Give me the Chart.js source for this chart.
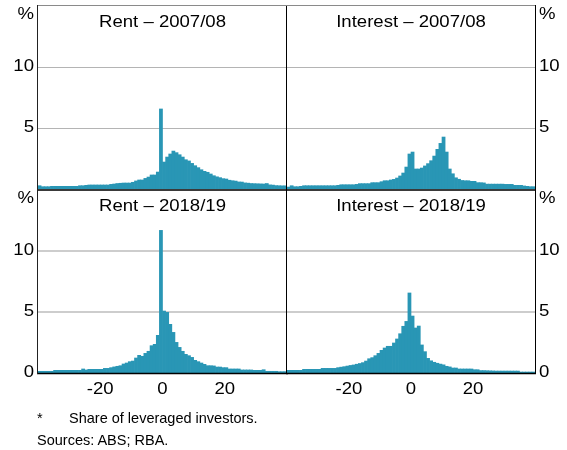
<!DOCTYPE html>
<html>
<head>
<meta charset="utf-8">
<script src="https://cdn.jsdelivr.net/npm/chart.js@4/dist/chart.umd.min.js"></script>
<style>
  html, body { margin: 0; padding: 0; background: #fff; }
  #wrap { position: relative; width: 567px; height: 450px; overflow: hidden; background: #fff; }
  #wrap canvas { position: absolute; left: 0; top: 0; }
  .note { position: absolute; font: 14.5px "Liberation Sans", Arial, Helvetica, sans-serif; line-height: 1; color: #000; white-space: nowrap; }
</style>
</head>
<body>
<div id="wrap">
  <canvas id="c1" width="567" height="450"></canvas>
  <canvas id="c2" width="567" height="450"></canvas>
  <canvas id="c3" width="567" height="450"></canvas>
  <canvas id="c4" width="567" height="450"></canvas>
  <div class="note" style="left:37px; top:411px;">*</div>
  <div class="note" style="left:69px; top:411px;">Share of leveraged investors.</div>
  <div class="note" style="left:37px; top:433px;">Sources: ABS; RBA.</div>
</div>
<script>
// Lower edge of each 1-percentage-point bin (annual change, %)
const bins = [
  -40, -39, -38, -37, -36, -35, -34, -33, -32, -31,
  -30, -29, -28, -27, -26, -25, -24, -23, -22, -21,
  -20, -19, -18, -17, -16, -15, -14, -13, -12, -11,
  -10, -9, -8, -7, -6, -5, -4, -3, -2, -1,
  0, 1, 2, 3, 4, 5, 6, 7, 8, 9,
  10, 11, 12, 13, 14, 15, 16, 17, 18, 19,
  20, 21, 22, 23, 24, 25, 26, 27, 28, 29,
  30, 31, 32, 33, 34, 35, 36, 37, 38, 39
];

// Share of leveraged investors in each bin, %
const rent0708 = [
  0.27, 0.19, 0.19, 0.19, 0.22, 0.22, 0.22, 0.22, 0.22, 0.22,
  0.22, 0.22, 0.22, 0.27, 0.27, 0.30, 0.33, 0.33, 0.33, 0.33,
  0.33, 0.33, 0.33, 0.38, 0.41, 0.45, 0.47, 0.49, 0.49, 0.49,
  0.55, 0.66, 0.74, 0.74, 0.87, 0.98, 1.15, 1.15, 1.39, 6.56,
  2.21, 2.62, 2.87, 3.11, 2.98, 2.81, 2.62, 2.40, 2.30, 2.10,
  1.91, 1.75, 1.58, 1.45, 1.37, 1.23, 1.09, 1.00, 0.93, 0.85,
  0.82, 0.72, 0.68, 0.65, 0.58, 0.57, 0.50, 0.48, 0.45, 0.44,
  0.43, 0.42, 0.41, 0.45, 0.34, 0.32, 0.28, 0.27, 0.26, 0.26
];
const interest0708 = [
  0.16, 0.27, 0.19, 0.19, 0.22, 0.27, 0.27, 0.27, 0.27, 0.27,
  0.27, 0.27, 0.27, 0.27, 0.27, 0.27, 0.30, 0.35, 0.35, 0.35,
  0.35, 0.35, 0.38, 0.44, 0.44, 0.44, 0.44, 0.52, 0.52, 0.52,
  0.60, 0.68, 0.68, 0.74, 0.79, 0.90, 1.07, 1.31, 1.80, 2.87,
  3.03, 1.64, 1.64, 1.72, 1.89, 2.08, 2.32, 2.70, 3.25, 3.74,
  4.26, 3.03, 1.64, 1.25, 0.92, 0.80, 0.70, 0.68, 0.68, 0.63,
  0.63, 0.52, 0.52, 0.50, 0.40, 0.40, 0.40, 0.40, 0.40, 0.40,
  0.38, 0.38, 0.38, 0.30, 0.30, 0.30, 0.25, 0.22, 0.19, 0.19
];
const rent1819 = [
  0.14, 0.14, 0.14, 0.14, 0.14, 0.22, 0.22, 0.22, 0.22, 0.22,
  0.22, 0.22, 0.22, 0.22, 0.33, 0.25, 0.30, 0.30, 0.30, 0.30,
  0.30, 0.38, 0.38, 0.44, 0.50, 0.55, 0.60, 0.74, 0.82, 0.93,
  0.98, 1.23, 1.45, 1.37, 1.61, 1.78, 2.24, 2.35, 3.09, 11.69,
  5.08, 4.97, 3.99, 3.33, 2.51, 2.10, 1.78, 1.53, 1.42, 1.28,
  1.04, 0.93, 0.82, 0.71, 0.60, 0.60, 0.58, 0.49, 0.49, 0.44,
  0.44, 0.33, 0.33, 0.33, 0.33, 0.25, 0.25, 0.25, 0.25, 0.22,
  0.22, 0.22, 0.27, 0.14, 0.14, 0.14, 0.14, 0.11, 0.11, 0.11
];
const interest1819 = [
  0.22, 0.22, 0.22, 0.22, 0.22, 0.30, 0.30, 0.30, 0.30, 0.30,
  0.30, 0.38, 0.38, 0.38, 0.38, 0.38, 0.44, 0.48, 0.52, 0.57,
  0.62, 0.66, 0.72, 0.78, 0.85, 0.98, 1.17, 1.26, 1.42, 1.61,
  1.86, 2.05, 2.19, 2.19, 2.46, 2.79, 3.22, 3.83, 4.23, 6.56,
  4.67, 3.69, 3.85, 2.30, 1.75, 1.20, 1.00, 0.88, 0.80, 0.73,
  0.67, 0.55, 0.50, 0.41, 0.41, 0.33, 0.33, 0.33, 0.33, 0.33,
  0.27, 0.27, 0.20, 0.20, 0.19, 0.18, 0.17, 0.16, 0.16, 0.16,
  0.16, 0.16, 0.16, 0.16, 0.16, 0.08, 0.08, 0.08, 0.08, 0.08
];

const panelTitles = ['Rent – 2007/08', 'Interest – 2007/08', 'Rent – 2018/19', 'Interest – 2018/19'];
const xTicks = [-20, 0, 20];
const yTicksTop = [5, 10];
const yTicksBottom = [0, 5, 10];
const unitLabel = '%';

const BAR_COLOUR = '#2996b5';
const FONT = '16px "Liberation Sans", Arial, Helvetica, sans-serif';
const TEXT_STRETCH = 1.16;
const W = 567, H = 450;
// Plot-area edges shared by the four panels
const FRAME = { left: 38, mid: 287, right: 535, top: 6, split: 189, bottom: 373 };

function drawLabel(ctx, text, x, y, align, baseline) {
  ctx.save();
  ctx.font = FONT;
  ctx.fillStyle = '#000';
  ctx.textAlign = align;
  ctx.textBaseline = baseline;
  ctx.translate(x, y);
  ctx.scale(TEXT_STRETCH, 1);
  ctx.fillText(text, 0, 0);
  ctx.restore();
}

function line(ctx, x1, y1, x2, y2, colour, width) {
  ctx.save();
  ctx.strokeStyle = colour;
  ctx.lineWidth = width;
  ctx.beginPath();
  ctx.moveTo(x1, y1);
  ctx.lineTo(x2, y2);
  ctx.stroke();
  ctx.restore();
}

// Gridlines behind the bars, frame and labels on top
const panelDecor = {
  id: 'panelDecor',
  beforeDatasetsDraw(chart, args, opts) {
    const ctx = chart.ctx;
    const { left, right } = chart.chartArea;
    const y = chart.scales.y;
    [5, 10].forEach(v => {
      const py = y.getPixelForValue(v);
      if (opts.row === 0) line(ctx, left, py + 0.5, right, py + 0.5, '#b4b4b4', 1);
      else line(ctx, left, py, right, py, '#cdcdcd', 2);
    });
  },
  afterDatasetsDraw(chart, args, opts) {
    const ctx = chart.ctx;
    const { left, right, top, bottom } = chart.chartArea;
    const y = chart.scales.y;
    const x = chart.scales.x;
    const isLeft = opts.side === 'left';

    // frame
    if (opts.row === 0) {
      line(ctx, left - 1, FRAME.top - 0.5, right + 1, FRAME.top - 0.5, '#8a8a8a', 1);
      line(ctx, left - 1, FRAME.split + 1, right + 1, FRAME.split + 1, '#3a3a3a', 2);
    } else {
      line(ctx, left - 1, FRAME.bottom + 0.5, right + 1, FRAME.bottom + 0.5, '#000', 1.5);
    }
    if (isLeft) {
      line(ctx, FRAME.left - 0.5, top - 1, FRAME.left - 0.5, bottom + 1, '#222', 1);
      line(ctx, FRAME.mid - 0.5, top - 1, FRAME.mid - 0.5, bottom + 1, '#000', 1);
    } else {
      line(ctx, FRAME.right + 0.5, top - 1, FRAME.right + 0.5, bottom + 1, '#000', 1);
    }

    // value axis labels
    const tx = isLeft ? FRAME.left - 4 : FRAME.right + 4;
    const align = isLeft ? 'right' : 'left';
    const ticks = opts.row === 0 ? yTicksTop : yTicksBottom;
    ticks.forEach(v => drawLabel(ctx, String(v), tx, y.getPixelForValue(v), align, 'middle'));
    drawLabel(ctx, unitLabel, tx, top + 9, align, 'middle');

    // panel title
    drawLabel(ctx, opts.title, (left + right) / 2, top + 21, 'center', 'alphabetic');

    // category axis labels on the lower panels
    if (opts.row === 1) {
      xTicks.forEach(v => drawLabel(ctx, String(v), x.getPixelForValue(v), 393.5, 'center', 'alphabetic'));
    }
  }
};

function makePanel(canvasId, title, values, side, row) {
  const padding = {
    left: side === 'left' ? FRAME.left : FRAME.mid,
    right: side === 'left' ? W - FRAME.mid : W - FRAME.right,
    top: row === 0 ? FRAME.top : FRAME.split + 1,
    bottom: row === 0 ? H - FRAME.split : H - FRAME.bottom
  };
  return new Chart(document.getElementById(canvasId), {
    type: 'bar',
    data: {
      datasets: [{
        data: bins.map((b, i) => ({ x: b + 0.5, y: values[i] })),
        backgroundColor: BAR_COLOUR,
        borderWidth: 0,
        barPercentage: 1,
        categoryPercentage: 1,
        grouped: false
      }]
    },
    options: {
      responsive: false,
      animation: false,
      devicePixelRatio: 1,
      layout: { padding },
      scales: {
        x: { type: 'linear', min: -40, max: 40, offset: false, display: false, grid: { offset: false } },
        y: { type: 'linear', min: 0, max: 15, display: false }
      },
      plugins: {
        legend: { display: false },
        tooltip: { enabled: false },
        panelDecor: { title, side, row }
      }
    },
    plugins: [panelDecor]
  });
}

makePanel('c1', panelTitles[0], rent0708, 'left', 0);
makePanel('c2', panelTitles[1], interest0708, 'right', 0);
makePanel('c3', panelTitles[2], rent1819, 'left', 1);
makePanel('c4', panelTitles[3], interest1819, 'right', 1);
</script>
</body>
</html>
